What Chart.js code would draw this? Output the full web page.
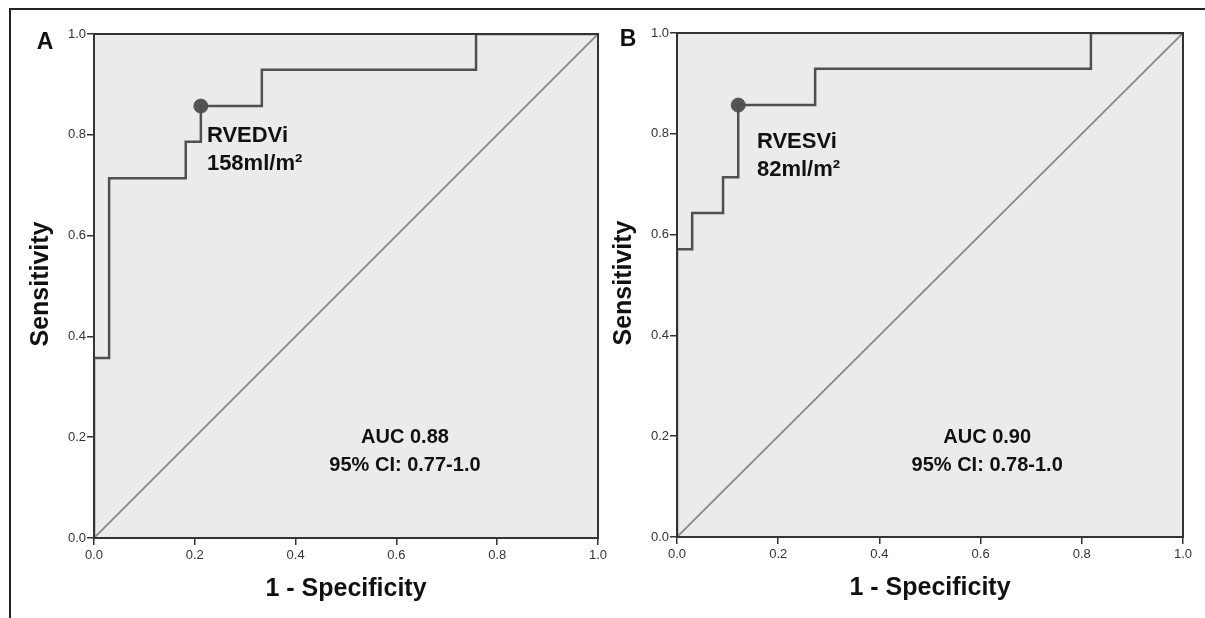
<!DOCTYPE html>
<html>
<head>
<meta charset="utf-8">
<script src="https://cdn.jsdelivr.net/npm/chart.js@4"></script>
<style>
  html, body { margin: 0; padding: 0; background: #fff; }
  body { width: 1205px; height: 618px; position: relative; overflow: hidden; }
  .frame { position: absolute; left: 9px; top: 8px; right: 0; bottom: 0;
           border-left: 2px solid #222; border-top: 2px solid #222; }
  .panel { position: absolute; top: 0; height: 618px; }
  #wrapA { left: 0; width: 620px; }
  #wrapB { left: 602px; width: 603px; }
</style>
</head>
<body>
<div class="frame"></div>
<div class="panel" id="wrapA"><canvas id="chartA"></canvas></div>
<div class="panel" id="wrapB"><canvas id="chartB"></canvas></div>
<script>
// ROC curve vertices, panel A (RVEDVi)
const fprA = [0, 0, 0.030, 0.030, 0.182, 0.182, 0.212, 0.212, 0.333, 0.333, 0.758, 0.758, 1.0];
const tprA = [0, 0.357, 0.357, 0.714, 0.714, 0.786, 0.786, 0.857, 0.857, 0.929, 0.929, 1.0, 1.0];
const cutA = [0.212, 0.857];

// ROC curve vertices, panel B (RVESVi)
const fprB = [0, 0, 0.030, 0.030, 0.091, 0.091, 0.121, 0.121, 0.273, 0.273, 0.818, 0.818, 1.0];
const tprB = [0, 0.571, 0.571, 0.643, 0.643, 0.714, 0.714, 0.857, 0.857, 0.929, 0.929, 1.0, 1.0];
const cutB = [0.121, 0.857];

const refLine = [0, 1];
const tickValues = [0, 0.2, 0.4, 0.6, 0.8, 1.0];

const FONT = "'Liberation Sans', Arial, sans-serif";

function makePoints(xs, ys) {
    return xs.map((x, i) => ({ x: x, y: ys[i] }));
}

// fond gris + cadre + textes
const decorPlugin = {
    id: 'decor',
    beforeDraw(chart) {
        const a = chart.chartArea;
        const ctx = chart.ctx;
        ctx.save();
        ctx.fillStyle = '#ebebeb';
        ctx.fillRect(a.left, a.top, a.right - a.left, a.bottom - a.top);
        ctx.restore();
    },
    afterDraw(chart, args, opts) {
        const a = chart.chartArea;
        const ctx = chart.ctx;
        const xs = chart.scales.x, ys = chart.scales.y;
        ctx.save();
        ctx.strokeStyle = '#333';
        ctx.lineWidth = 2;
        ctx.strokeRect(a.left, a.top, a.right - a.left, a.bottom - a.top);

        ctx.fillStyle = '#111';
        // panel letter
        ctx.font = 'bold 23px ' + FONT;
        ctx.textAlign = 'center';
        ctx.textBaseline = 'middle';
        ctx.fillText(opts.letter, a.left - 49, a.top + opts.letterDy);

        // axis titles
        ctx.font = 'bold 25px ' + FONT;
        ctx.fillText('1 - Specificity', (a.left + a.right) / 2, a.bottom + 51);
        ctx.save();
        ctx.translate(a.left - 53, (a.top + a.bottom) / 2 - 2);
        ctx.rotate(-Math.PI / 2);
        ctx.fillText('Sensitivity', 0, 0);
        ctx.restore();

        // cut-off label
        ctx.font = 'bold 22px ' + FONT;
        ctx.textAlign = 'left';
        opts.cutLabel.forEach((t, i) => {
            ctx.fillText(t, xs.getPixelForValue(opts.cutPos[0]), ys.getPixelForValue(opts.cutPos[1]) + i * 28);
        });

        // AUC
        ctx.font = 'bold 20px ' + FONT;
        ctx.textAlign = 'center';
        opts.auc.forEach((t, i) => {
            ctx.fillText(t, xs.getPixelForValue(opts.aucPos[0]), ys.getPixelForValue(opts.aucPos[1]) + i * 28);
        });
        ctx.restore();
    }
};

function buildChart(id, fpr, tpr, cut, area, decor) {
    const ctx = document.getElementById(id).getContext('2d');
    const axisCommon = {
        type: 'linear',
        min: 0,
        max: 1,
        afterBuildTicks: (scale) => { scale.ticks = tickValues.map(v => ({ value: v })); },
        grid: { drawOnChartArea: false, tickLength: 7, color: '#333', lineWidth: 1.5 },
        border: { display: true, color: '#333', width: 2 },
        title: { display: false }
    };
    return new Chart(ctx, {
        type: 'scatter',
        data: {
            datasets: [
                {
                    data: makePoints(refLine, refLine),
                    showLine: true,
                    borderColor: '#888',
                    borderWidth: 1.8,
                    pointRadius: 0
                },
                {
                    data: makePoints(fpr, tpr),
                    showLine: true,
                    borderColor: '#4f4f4f',
                    borderWidth: 2.5,
                    pointRadius: 0
                },
                {
                    data: [{ x: cut[0], y: cut[1] }],
                    pointRadius: 7,
                    pointBackgroundColor: '#555',
                    pointBorderColor: '#555'
                }
            ]
        },
        options: {
            responsive: true,
            maintainAspectRatio: false,
            animation: false,
            layout: { padding: { left: 0, top: area.top, right: area.right, bottom: 0 } },
            plugins: {
                legend: { display: false },
                tooltip: { enabled: false },
                decor: decor
            },
            scales: {
                x: Object.assign({}, axisCommon, {
                    position: 'bottom',
                    ticks: {
                        color: '#333',
                        font: { family: FONT, size: 13 },
                        padding: 3,
                        maxRotation: 0,
                        callback: v => v.toFixed(1)
                    },
                    afterFit: (s) => { s.height = area.xh; s.paddingLeft = 0; s.paddingRight = 0; }
                }),
                y: Object.assign({}, axisCommon, {
                    position: 'left',
                    ticks: {
                        color: '#333',
                        font: { family: FONT, size: 13 },
                        padding: 1,
                        callback: v => v.toFixed(1)
                    },
                    afterFit: (s) => { s.width = area.yw; s.paddingTop = 0; s.paddingBottom = 0; }
                })
            }
        },
        plugins: [decorPlugin]
    });
}

document.addEventListener("DOMContentLoaded", function () {
    buildChart('chartA', fprA, tprA, cutA,
        { top: 34, right: 22, xh: 80, yw: 94 },
        {
            letter: 'A', letterDy: 9,
            cutLabel: ['RVEDVi', '158ml/m²'], cutPos: [0.224, 0.798],
            auc: ['AUC 0.88', '95% CI: 0.77-1.0'], aucPos: [0.617, 0.200]
        });
    buildChart('chartB', fprB, tprB, cutB,
        { top: 33, right: 22, xh: 81, yw: 75 },
        {
            letter: 'B', letterDy: 7,
            cutLabel: ['RVESVi', '82ml/m²'], cutPos: [0.158, 0.784],
            auc: ['AUC 0.90', '95% CI: 0.78-1.0'], aucPos: [0.613, 0.198]
        });
});
</script>
</body>
</html>
